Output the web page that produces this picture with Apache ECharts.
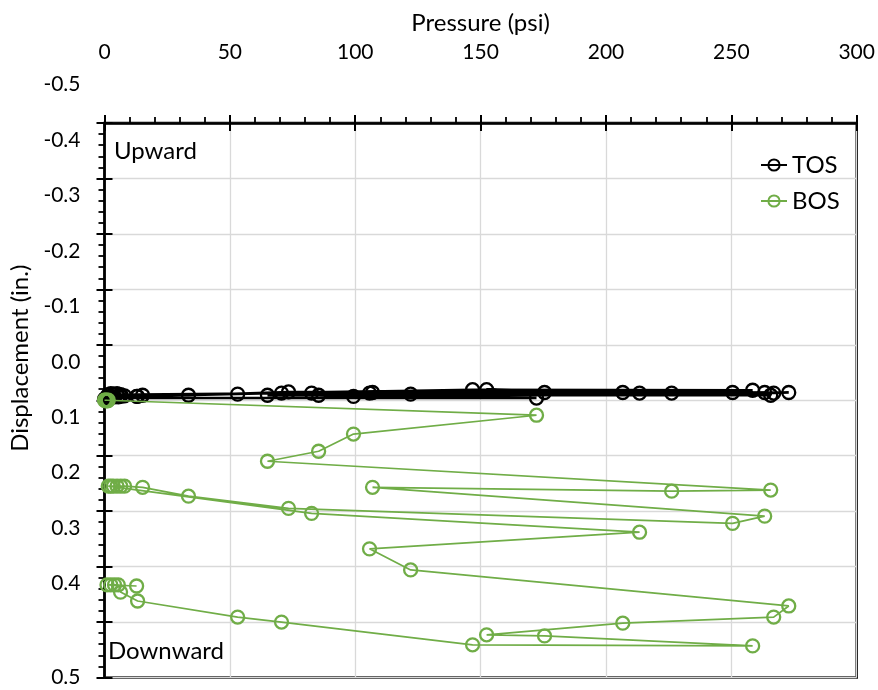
<!DOCTYPE html>
<html><head><meta charset="utf-8">
<script src="https://cdn.jsdelivr.net/npm/echarts@6/dist/echarts.min.js"></script>
<style>html,body{margin:0;padding:0;background:#fff}#c{width:878px;height:690px}</style>
</head><body><div id="c"></div>
<script>
// Pressure readings (psi), shared by both gauges, in recording order
const pressure = [
  0, 0.3, 0.6, 0.9, 1.2, 1.5,
  172.3, 99.3, 85.4, 65.0,
  265.7, 226.2, 106.9, 263.3, 250.5,
  73.4, 33.5, 15.2,
  8, 6.5, 5, 3.5, 2.5, 1.5,
  82.6, 213.4, 105.7, 122.1,
  272.9, 266.9, 206.7, 152.4, 175.5, 258.5, 146.8,
  70.6, 53.1, 13.2, 6.4,
  5.5, 4, 2.5, 1, 12.8
];
// Displacement (in.) – top of shaft
const tosDisp = [
  -0.002, -0.003, -0.002, -0.004, -0.003, -0.004,
  -0.004, -0.007, -0.009, -0.009,
  -0.009, -0.013, -0.014, -0.014, -0.014,
  -0.015, -0.009, -0.009,
  -0.008, -0.010, -0.012, -0.011, -0.012, -0.010,
  -0.013, -0.013, -0.013, -0.011,
  -0.014, -0.013, -0.014, -0.019, -0.014, -0.018, -0.019,
  -0.013, -0.011, -0.007, -0.007,
  -0.006, -0.006, -0.006, -0.006, -0.007
];
// Displacement (in.) – bottom of shaft
const bosDisp = [
  0.000, 0.000, 0.001, 0.000, 0.001, 0.000,
  0.027, 0.061, 0.092, 0.110,
  0.162, 0.164, 0.157, 0.209, 0.222,
  0.195, 0.173, 0.157,
  0.155, 0.155, 0.155, 0.155, 0.155, 0.155,
  0.204, 0.238, 0.268, 0.306,
  0.371, 0.391, 0.402, 0.423, 0.425, 0.443, 0.441,
  0.400, 0.391, 0.362, 0.346,
  0.333, 0.333, 0.333, 0.333, 0.335
];
const xTicks = [0, 50, 100, 150, 200, 250, 300];
const yTicks = [-0.5, -0.4, -0.3, -0.2, -0.1, 0.0, 0.1, 0.2, 0.3, 0.4, 0.5];
const seriesNames = ['TOS', 'BOS'];
const annotations = ['Upward', 'Downward'];

const FONT = 'Lato';
const FS = 24;      // titles, legend, notes
const FS_TICK = 21; // tick labels
const GREEN = '#70AD47';

const tos = pressure.map((p, i) => [p, tosDisp[i]]);
const bos = pressure.map((p, i) => [p, bosDisp[i]]);

const xMin = xTicks[0], xMax = xTicks[xTicks.length - 1], xInt = xTicks[1] - xTicks[0];
const yMin = yTicks[0], yMax = yTicks[yTicks.length - 1], yInt = 0.1;
const fmt = v => (Math.round(v * 10) / 10).toFixed(1);
const isMax = v => Math.abs(v - yMax) < 1e-9;

const chart = echarts.init(document.getElementById('c'), null, {renderer: 'canvas'});
chart.setOption({
  animation: false,
  backgroundColor: '#fff',
  textStyle: {fontFamily: FONT},
  grid: {left: 104.5, right: 21.3, top: 123, bottom: 12.5, show: true, borderColor: '#000', borderWidth: 2.5, backgroundColor: 'transparent'},
  legend: {
    orient: 'vertical', left: 755, top: 148, itemWidth: 26, itemHeight: 14, itemGap: 12,
    textStyle: {fontFamily: FONT, fontSize: FS, color: '#000'},
    data: seriesNames
  },
  xAxis: [{
    type: 'value', position: 'top', min: xMin, max: xMax, interval: xInt,
    name: 'Pressure (psi)', nameLocation: 'middle', nameGap: 88,
    nameTextStyle: {fontFamily: FONT, fontSize: FS, color: '#000'},
    axisLine: {show: true, onZero: false, lineStyle: {color: '#000', width: 2.5}},
    axisTick: {show: true, inside: false, length: 8, lineStyle: {color: '#000', width: 2}},
    minorTick: {show: true, splitNumber: 5, length: 6, lineStyle: {color: '#000', width: 1.8}},
    axisLabel: {margin: 60, fontFamily: FONT, fontSize: FS_TICK, color: '#000', showMinLabel: true, showMaxLabel: true},
    splitLine: {show: true, lineStyle: {color: '#d9d9d9', width: 1.3}}
  }, {
    type: 'value', position: 'top', min: xMin, max: xMax, interval: xInt,
    axisLine: {show: false, onZero: false},
    axisTick: {show: true, inside: true, length: 8, lineStyle: {color: '#000', width: 2}},
    axisLabel: {show: false}, splitLine: {show: false}
  }],
  yAxis: [{
    type: 'value', position: 'left', inverse: true, min: yMin, max: yMax, interval: yInt,
    name: 'Displacement (in.)', nameLocation: 'middle', nameGap: 70, nameRotate: 90,
    nameTextStyle: {fontFamily: FONT, fontSize: FS, color: '#000', padding: [0, 0, 0, 84]},
    axisLine: {show: true, onZero: false, lineStyle: {color: '#000', width: 2.5}},
    axisTick: {show: true, inside: false, length: 8, lineStyle: {color: '#000', width: 2}},
    minorTick: {show: true, splitNumber: 5, length: 6, lineStyle: {color: '#000', width: 1.8}},
    axisLabel: {
      margin: 24, fontFamily: FONT, fontSize: FS_TICK, color: '#000', lineHeight: 22,
      verticalAlign: 'bottom', showMinLabel: true, showMaxLabel: true, hideOverlap: false,
      formatter: v => isMax(v) ? '' : fmt(v) + '\n{s| }',
      rich: {s: {lineHeight: 27.5, fontSize: 2}}
    },
    splitLine: {show: true, lineStyle: {color: '#d9d9d9', width: 1.3}}
  }, {
    type: 'value', position: 'left', inverse: true, min: yMin, max: yMax, interval: yInt,
    axisLine: {show: false, onZero: false},
    axisTick: {show: true, inside: true, length: 8, lineStyle: {color: '#000', width: 2}},
    axisLabel: {
      margin: 24, fontFamily: FONT, fontSize: FS_TICK, color: '#000',
      showMinLabel: true, showMaxLabel: true,
      formatter: v => isMax(v) ? fmt(v) : ''
    },
    splitLine: {show: false}
  }],
  graphic: [
    {type: 'text', left: 114, top: 139, style: {text: annotations[0], font: FS + 'px ' + FONT, fill: '#000'}},
    {type: 'text', left: 108, top: 639, style: {text: annotations[1], font: FS + 'px ' + FONT, fill: '#000'}}
  ],
  series: [{
    name: seriesNames[0], type: 'line', data: tos, xAxisIndex: 0, yAxisIndex: 0,
    symbol: 'circle', symbolSize: 13, showAllSymbol: true, z: 2,
    lineStyle: {color: '#000', width: 2.4},
    itemStyle: {color: 'rgba(255,255,255,0)', borderColor: '#000', borderWidth: 2.3},
    emphasis: {disabled: true}
  }, {
    name: seriesNames[1], type: 'line', data: bos, xAxisIndex: 0, yAxisIndex: 0,
    symbol: 'circle', symbolSize: 13, showAllSymbol: true, z: 3,
    lineStyle: {color: GREEN, width: 1.7},
    itemStyle: {color: 'rgba(255,255,255,0)', borderColor: GREEN, borderWidth: 2.3},
    emphasis: {disabled: true}
  }]
});
</script>
</body></html>
